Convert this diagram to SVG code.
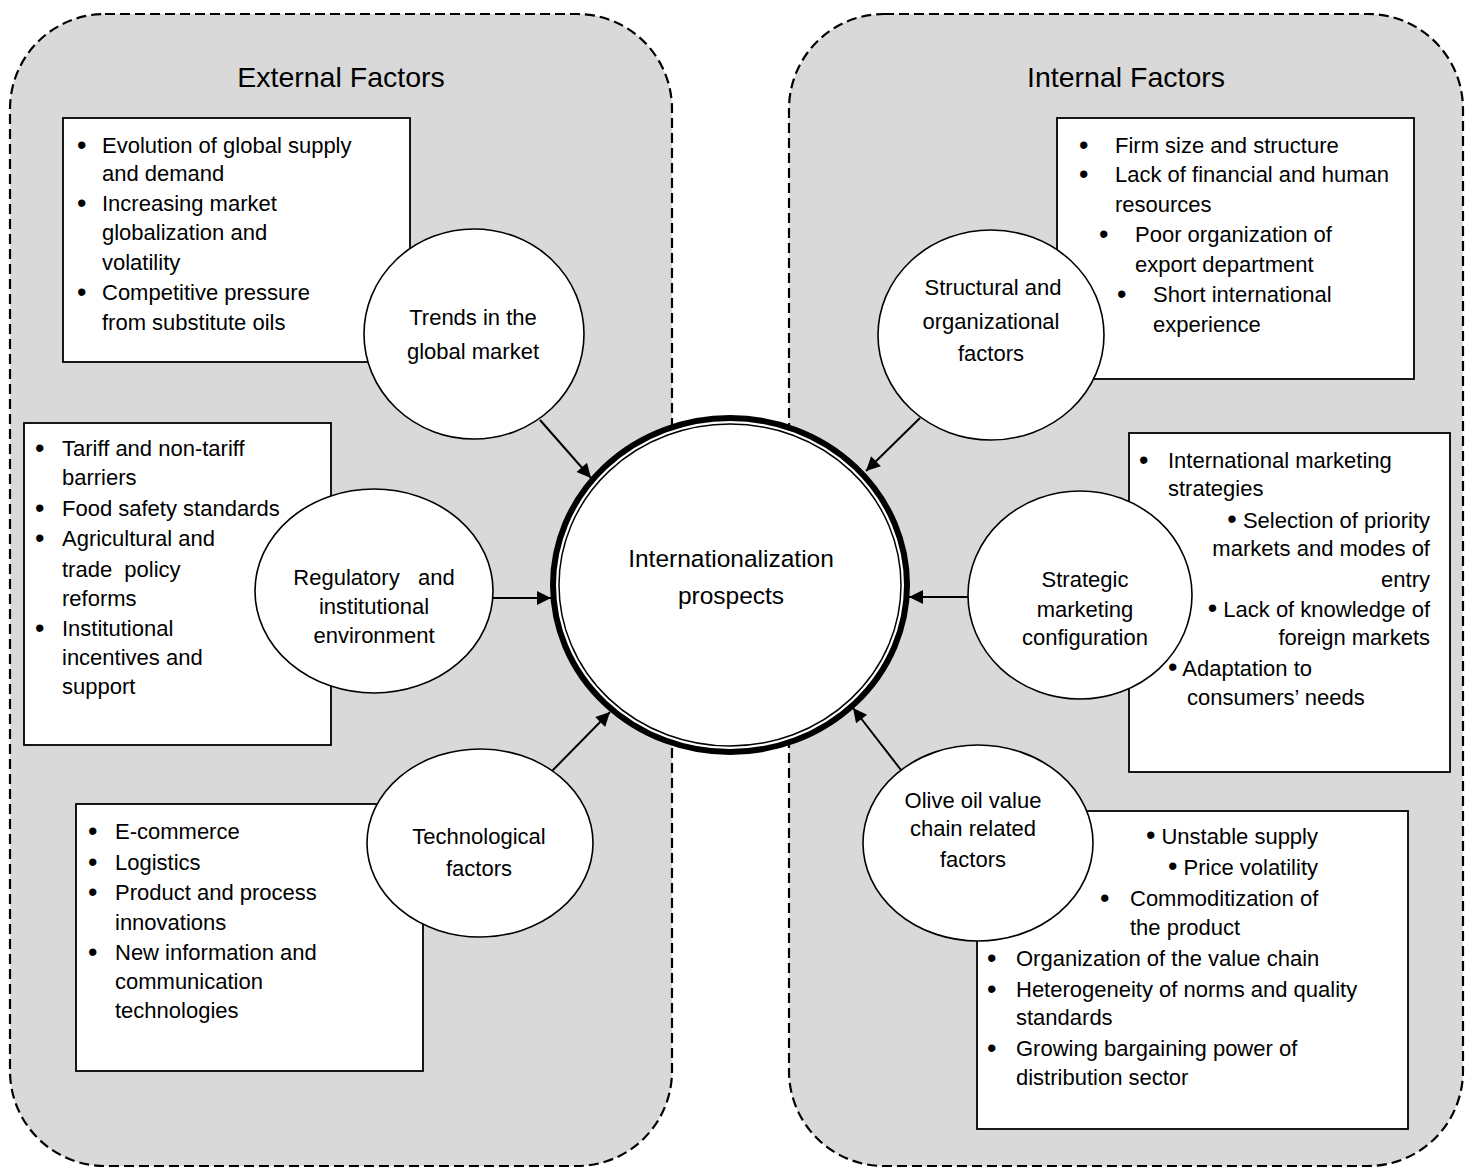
<svg xmlns="http://www.w3.org/2000/svg" width="1472" height="1169" viewBox="0 0 1472 1169">
<defs>
<style>
.panel{fill:#d9d9d9;stroke:#000;stroke-width:2.2;stroke-dasharray:10 5}
.box{fill:#fff;stroke:#000;stroke-width:1.8}
.node{fill:#fff;stroke:#000;stroke-width:1.6}
text{font-family:"Liberation Sans",Arial,sans-serif;fill:#000}
.t{font-size:22px}
.c{font-size:22px;text-anchor:middle}
.e{font-size:22px;text-anchor:end}
.b{font-size:27px}
.title{font-size:28.5px;text-anchor:middle}
.center{font-size:24.5px;text-anchor:middle}
.pre{white-space:pre}
.arrow{stroke:#000;stroke-width:2;fill:none;marker-end:url(#ah)}
</style>
<marker id="ah" viewBox="0 0 10 10" markerUnits="userSpaceOnUse" markerWidth="18" markerHeight="14" refX="10" refY="5" orient="auto">
<path d="M0,0 L10,5 L0,10 z" fill="#000"/>
</marker>
</defs>
<rect width="1472" height="1169" fill="#fff"/>

<g id="panel-external">
<rect class="panel" x="10" y="14" width="662" height="1152" rx="95" ry="95"/>
<text class="title" x="341" y="87">External Factors</text>
</g>
<g id="panel-internal">
<rect class="panel" x="789" y="14" width="674" height="1152" rx="95" ry="95"/>
<text class="title" x="1126" y="87">Internal Factors</text>
</g>

<g id="box-trends">
<rect class="box" x="63" y="118" width="347" height="244"/>
<text class="t"><tspan class="b" x="77" y="154">•</tspan><tspan x="102" y="153">Evolution of global supply</tspan><tspan x="102" y="181">and demand</tspan><tspan class="b" x="77" y="212">•</tspan><tspan x="102" y="211">Increasing market</tspan><tspan x="102" y="240">globalization and</tspan><tspan x="102" y="270">volatility</tspan><tspan class="b" x="77" y="301">•</tspan><tspan x="102" y="300">Competitive pressure</tspan><tspan x="102" y="330">from substitute oils</tspan></text>
</g>
<g id="box-regulatory">
<rect class="box" x="24" y="423" width="307" height="322"/>
<text class="t pre"><tspan class="b" x="35" y="457">•</tspan><tspan x="62" y="456">Tariff and non-tariff</tspan><tspan x="62" y="485">barriers</tspan><tspan class="b" x="35" y="517">•</tspan><tspan x="62" y="516">Food safety standards</tspan><tspan class="b" x="35" y="547">•</tspan><tspan x="62" y="546">Agricultural and</tspan><tspan x="62" y="577">trade  policy</tspan><tspan x="62" y="606">reforms</tspan><tspan class="b" x="35" y="637">•</tspan><tspan x="62" y="636">Institutional</tspan><tspan x="62" y="665">incentives and</tspan><tspan x="62" y="694">support</tspan></text>
</g>
<g id="box-tech">
<rect class="box" x="76" y="804" width="347" height="267"/>
<text class="t"><tspan class="b" x="88" y="840">•</tspan><tspan x="115" y="839">E-commerce</tspan><tspan class="b" x="88" y="871">•</tspan><tspan x="115" y="870">Logistics</tspan><tspan class="b" x="88" y="901">•</tspan><tspan x="115" y="900">Product and process</tspan><tspan x="115" y="930">innovations</tspan><tspan class="b" x="88" y="961">•</tspan><tspan x="115" y="960">New information and</tspan><tspan x="115" y="989">communication</tspan><tspan x="115" y="1018">technologies</tspan></text>
</g>
<g id="box-structural">
<rect class="box" x="1057" y="118" width="357" height="261"/>
<text class="t"><tspan class="b" x="1079" y="154">•</tspan><tspan x="1115" y="153">Firm size and structure</tspan><tspan class="b" x="1079" y="183">•</tspan><tspan x="1115" y="182">Lack of financial and human</tspan><tspan x="1115" y="212">resources</tspan><tspan class="b" x="1099" y="243">•</tspan><tspan x="1135" y="242">Poor organization of</tspan><tspan x="1135" y="272">export department</tspan><tspan class="b" x="1117" y="303">•</tspan><tspan x="1153" y="302">Short international</tspan><tspan x="1153" y="332">experience</tspan></text>
</g>
<g id="box-strategic">
<rect class="box" x="1129" y="433" width="321" height="339"/>
<text class="t"><tspan class="b" x="1139" y="469">•</tspan><tspan x="1168" y="468">International marketing</tspan><tspan x="1168" y="496">strategies</tspan></text>
<text class="e" x="1430" y="528"><tspan class="b">•</tspan> Selection of priority</text>
<text class="e" x="1430" y="556">markets and modes of</text>
<text class="e" x="1430" y="587">entry</text>
<text class="e" x="1430" y="617"><tspan class="b">•</tspan> Lack of knowledge of</text>
<text class="e" x="1430" y="645">foreign markets</text>
<text class="t" x="1168" y="676"><tspan class="b">•</tspan> Adaptation to</text>
<text class="t" x="1187" y="705">consumers’ needs</text>
</g>
<g id="box-valuechain">
<rect class="box" x="977" y="811" width="431" height="318"/>
<text class="e" x="1318" y="844"><tspan class="b">•</tspan> Unstable supply</text>
<text class="e" x="1318" y="875"><tspan class="b">•</tspan> Price volatility</text>
<text class="t"><tspan class="b" x="1100" y="907">•</tspan><tspan x="1130" y="906">Commoditization of</tspan><tspan x="1130" y="935">the product</tspan><tspan class="b" x="987" y="967">•</tspan><tspan x="1016" y="966">Organization of the value chain</tspan><tspan class="b" x="987" y="998">•</tspan><tspan x="1016" y="997">Heterogeneity of norms and quality</tspan><tspan x="1016" y="1025">standards</tspan><tspan class="b" x="987" y="1057">•</tspan><tspan x="1016" y="1056">Growing bargaining power of</tspan><tspan x="1016" y="1085">distribution sector</tspan></text>
</g>

<g id="node-trends">
<ellipse class="node" cx="474" cy="334" rx="110" ry="105"/>
<text class="c"><tspan x="473" y="325">Trends in the</tspan><tspan x="473" y="359">global market</tspan></text>
</g>
<g id="node-regulatory">
<ellipse class="node" cx="374" cy="591" rx="119" ry="102"/>
<text class="c pre"><tspan x="374" y="585">Regulatory   and</tspan><tspan x="374" y="614">institutional</tspan><tspan x="374" y="643">environment</tspan></text>
</g>
<g id="node-tech">
<ellipse class="node" cx="480" cy="843" rx="113" ry="94"/>
<text class="c"><tspan x="479" y="844">Technological</tspan><tspan x="479" y="876">factors</tspan></text>
</g>
<g id="node-structural">
<ellipse class="node" cx="991" cy="335" rx="113" ry="105"/>
<text class="c"><tspan x="993" y="295">Structural and</tspan><tspan x="991" y="329">organizational</tspan><tspan x="991" y="361">factors</tspan></text>
</g>
<g id="node-strategic">
<ellipse class="node" cx="1080" cy="595" rx="112" ry="104"/>
<text class="c"><tspan x="1085" y="587">Strategic</tspan><tspan x="1085" y="617">marketing</tspan><tspan x="1085" y="645">configuration</tspan></text>
</g>
<g id="node-valuechain">
<ellipse class="node" cx="978" cy="843" rx="115" ry="98"/>
<text class="c"><tspan x="973" y="808">Olive oil value</tspan><tspan x="973" y="836">chain related</tspan><tspan x="973" y="867">factors</tspan></text>
</g>

<g id="node-center">
<ellipse cx="730" cy="585" rx="177" ry="167" fill="#fff" stroke="#000" stroke-width="6"/>
<ellipse cx="730" cy="585" rx="171" ry="161" fill="none" stroke="#000" stroke-width="1.5"/>
<text class="center"><tspan x="731" y="567">Internationalization</tspan><tspan x="731" y="604">prospects</tspan></text>
</g>

<g id="connectors">
<line class="arrow" x1="540" y1="420" x2="591" y2="478"/>
<line class="arrow" x1="493" y1="598" x2="551" y2="598"/>
<line class="arrow" x1="552" y1="771" x2="610" y2="712"/>
<line class="arrow" x1="920" y1="418" x2="866" y2="471"/>
<line class="arrow" x1="968" y1="597" x2="909" y2="597"/>
<line class="arrow" x1="901" y1="770" x2="853" y2="708"/>
</g>
</svg>
